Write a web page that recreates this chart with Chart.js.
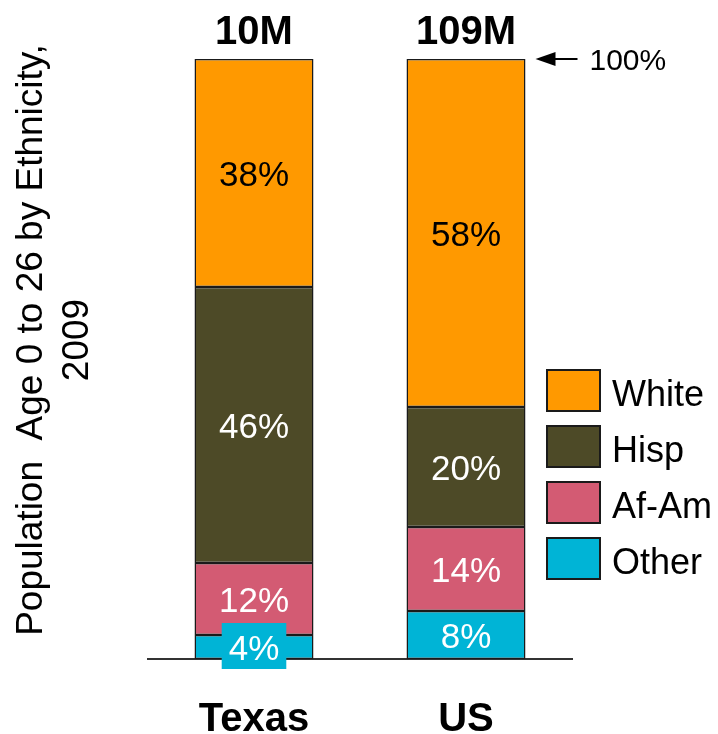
<!DOCTYPE html>
<html>
<head>
<meta charset="utf-8">
<script src="https://cdn.jsdelivr.net/npm/chart.js@4/dist/chart.umd.min.js"></script>
<style>
  html, body { margin: 0; padding: 0; background: #fff; }
  #wrap { width: 718px; height: 734px; }
</style>
</head>
<body>
<div id="wrap"><canvas id="c" width="718" height="734"></canvas></div>
<script>
// ---- data ----
const categories = ['Texas', 'US'];
const totals = ['10M', '109M'];
const seriesNames = ['Other', 'Af-Am', 'Hisp', 'White'];
const otherValues = [4, 8];
const afAmValues = [12, 14];
const hispValues = [46, 20];
const whiteValues = [38, 58];
const yTitleLines = ['Population  Age 0 to 26 by Ethnicity,', '2009'];
const topMarkerValue = 100;
const topMarkerText = '100%';

const colors = {
  'Other': '#00B4D6',
  'Af-Am': '#D35B73',
  'Hisp': '#4D4A27',
  'White': '#FF9900'
};
const labelColors = {
  'Other': '#ffffff',
  'Af-Am': '#ffffff',
  'Hisp': '#ffffff',
  'White': '#000000'
};
const seriesValues = [otherValues, afAmValues, hispValues, whiteValues];
const FONT = '"Liberation Sans", Arial, Helvetica, sans-serif';

const overlay = {
  id: 'overlay',
  afterDatasetsDraw(chart) {
    const ctx = chart.ctx;
    const y = chart.scales.y;
    ctx.save();
    // segment labels
    chart.data.datasets.forEach((ds, di) => {
      const meta = chart.getDatasetMeta(di);
      meta.data.forEach((el, i) => {
        const v = ds.data[i];
        const cx = el.x;
        const cy = (el.y + el.base) / 2;
        const txt = v + '%';
        ctx.font = '35px ' + FONT;
        ctx.textAlign = 'center';
        ctx.textBaseline = 'middle';
        const h = Math.abs(el.base - el.y);
        if (h < 40) {
          const w = ctx.measureText(txt).width + 14;
          ctx.fillStyle = ds.backgroundColor;
          ctx.fillRect(cx - w / 2, cy - 24, w, 46);
        }
        ctx.fillStyle = labelColors[ds.label];
        ctx.fillText(txt, cx, cy + 3);
      });
    });
    // totals above bars
    const topPx = y.getPixelForValue(topMarkerValue);
    const lastMeta = chart.getDatasetMeta(chart.data.datasets.length - 1);
    ctx.font = 'bold 40px ' + FONT;
    ctx.fillStyle = '#000';
    ctx.textAlign = 'center';
    ctx.textBaseline = 'alphabetic';
    lastMeta.data.forEach((el, i) => {
      ctx.fillText(totals[i], el.x, topPx - 15);
    });
    // 100% marker arrow
    const lastBar = lastMeta.data[lastMeta.data.length - 1];
    const right = lastBar.x + lastBar.width / 2;
    const ax0 = right + 10, ax1 = right + 52;
    ctx.strokeStyle = '#000';
    ctx.lineWidth = 2;
    ctx.beginPath();
    ctx.moveTo(ax0 + 10, topPx);
    ctx.lineTo(ax1, topPx);
    ctx.stroke();
    ctx.fillStyle = '#000';
    ctx.beginPath();
    ctx.moveTo(ax0, topPx);
    ctx.lineTo(ax0 + 20, topPx - 7);
    ctx.lineTo(ax0 + 20, topPx + 7);
    ctx.closePath();
    ctx.fill();
    ctx.font = '30px ' + FONT;
    ctx.textAlign = 'left';
    ctx.textBaseline = 'middle';
    ctx.fillText(topMarkerText, ax1 + 12, topPx + 3);
    // legend (top to bottom: reverse of stack)
    const items = chart.data.datasets.slice().reverse();
    items.forEach((ds, i) => {
      const bx = 547, by = 370 + i * 56;
      ctx.fillStyle = ds.backgroundColor;
      ctx.fillRect(bx, by, 53, 41);
      ctx.strokeStyle = '#1a1a1a';
      ctx.lineWidth = 2;
      ctx.strokeRect(bx, by, 53, 41);
      ctx.fillStyle = '#000';
      ctx.font = '36px ' + FONT;
      ctx.textAlign = 'left';
      ctx.textBaseline = 'middle';
      ctx.fillText(ds.label, 612, by + 26);
    });
    // y title
    ctx.translate(0, 340);
    ctx.rotate(-Math.PI / 2);
    ctx.font = '37px ' + FONT;
    ctx.fillStyle = '#000';
    ctx.textAlign = 'center';
    ctx.textBaseline = 'alphabetic';
    ctx.fillText(yTitleLines[0], 0, 42);
    ctx.fillText(yTitleLines[1], 0, 88);
    ctx.restore();
  }
};

new Chart(document.getElementById('c'), {
  type: 'bar',
  data: {
    labels: categories,
    datasets: seriesNames.map((name, i) => ({
      label: name,
      data: seriesValues[i],
      backgroundColor: colors[name],
      borderColor: '#1a1a1a',
      borderWidth: 1.5,
      borderSkipped: false,
      categoryPercentage: 1,
      barPercentage: 0.5613
    }))
  },
  options: {
    responsive: false,
    devicePixelRatio: 1,
    animation: false,
    layout: { padding: { left: 148, right: 146, top: 59, bottom: -47 } },
    plugins: { legend: { display: false }, tooltip: { enabled: false } },
    scales: {
      x: {
        stacked: true,
        grid: { display: false, drawTicks: false },
        border: { display: true, color: '#333', width: 2 },
        ticks: {
          color: '#000',
          padding: 41,
          font: { family: FONT, size: 40, weight: 'bold', lineHeight: 1 }
        }
      },
      y: {
        stacked: true,
        display: false,
        min: 0,
        max: 100
      }
    }
  },
  plugins: [overlay]
});
</script>
</body>
</html>
